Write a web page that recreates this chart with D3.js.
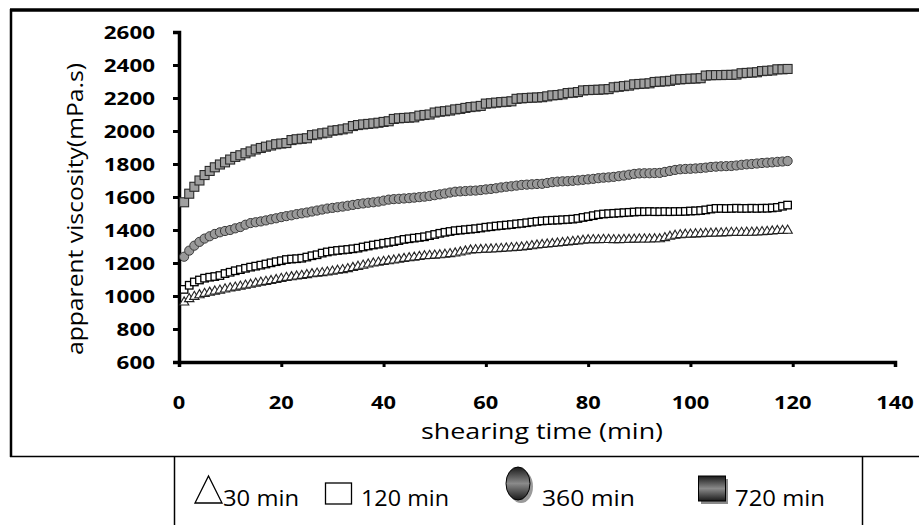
<!DOCTYPE html>
<html>
<head>
<meta charset="utf-8">
<script src="https://cdn.jsdelivr.net/npm/d3@7"></script>
<style>
  body { margin: 0; background: #fff; }
  svg text { fill: #000; }
</style>
</head>
<body>
<script>
// apparent viscosity (mPa.s), one reading per minute of shearing, minutes 1..119
var visc30 = [962,982,996,1006,1014,1021,1028,1034,1041,1047,1052,1058,1064,1069,1076,1082,1087,1092,1098,1105,
  1111,1115,1119,1123,1128,1133,1137,1140,1144,1149,1154,1158,1164,1171,1178,1185,1192,1198,1203,1208,
  1212,1216,1221,1226,1230,1234,1238,1242,1244,1246,1248,1251,1255,1259,1265,1271,1277,1279,1280,1282,
  1283,1285,1287,1289,1291,1293,1295,1299,1303,1307,1310,1313,1316,1319,1322,1326,1329,1332,1336,1339,
  1340,1340,1341,1341,1340,1340,1341,1342,1343,1344,1344,1344,1345,1345,1352,1360,1366,1370,1372,1373,
  1375,1376,1378,1379,1380,1381,1382,1384,1384,1384,1385,1385,1386,1388,1390,1392,1395,1396,1397];

var visc120 = [1040,1065,1085,1097,1108,1114,1118,1124,1136,1144,1153,1160,1168,1175,1181,1187,1194,1201,1208,1214,
  1221,1224,1226,1229,1236,1244,1250,1260,1267,1272,1276,1279,1282,1286,1290,1297,1303,1309,1314,1320,
  1325,1330,1336,1343,1347,1351,1355,1359,1366,1373,1380,1386,1391,1396,1399,1402,1405,1408,1412,1417,
  1420,1424,1427,1430,1433,1437,1440,1444,1448,1452,1455,1457,1459,1460,1462,1464,1466,1470,1476,1481,
  1487,1493,1497,1499,1501,1503,1505,1507,1509,1511,1511,1512,1511,1511,1512,1511,1512,1512,1513,1515,
  1516,1518,1522,1527,1531,1531,1530,1531,1532,1531,1531,1532,1531,1532,1532,1534,1537,1544,1551];

var visc360 = [1238,1275,1305,1328,1348,1362,1376,1386,1394,1400,1410,1418,1432,1442,1447,1452,1458,1465,1471,1478,
  1484,1489,1496,1501,1506,1512,1518,1524,1530,1534,1538,1542,1547,1552,1557,1561,1565,1568,1572,1578,
  1584,1587,1589,1591,1593,1596,1599,1602,1606,1611,1616,1621,1627,1632,1634,1636,1638,1639,1642,1646,
  1649,1653,1658,1662,1665,1669,1673,1675,1677,1679,1680,1685,1690,1693,1695,1696,1698,1701,1704,1707,
  1710,1714,1717,1719,1722,1726,1730,1735,1740,1743,1744,1744,1745,1746,1752,1758,1764,1768,1770,1771,
  1773,1775,1778,1782,1784,1786,1787,1788,1791,1795,1798,1800,1803,1806,1808,1810,1813,1815,1818];

var visc720 = [1568,1620,1662,1700,1733,1758,1780,1797,1810,1827,1843,1853,1865,1876,1888,1897,1905,1912,1920,1924,
  1927,1945,1950,1953,1956,1975,1979,1986,1990,2002,2005,2010,2016,2030,2036,2040,2043,2046,2050,2055,
  2059,2073,2077,2079,2081,2083,2093,2097,2100,2112,2117,2120,2124,2131,2134,2140,2145,2148,2152,2166,
  2168,2172,2175,2177,2180,2195,2198,2200,2202,2203,2205,2210,2216,2218,2222,2230,2232,2236,2246,2248,
  2249,2250,2252,2254,2265,2268,2272,2275,2283,2285,2287,2289,2297,2299,2301,2304,2311,2313,2315,2317,
  2318,2320,2336,2338,2339,2339,2340,2340,2342,2350,2352,2354,2356,2363,2365,2367,2374,2374,2376];

var xTicks = [0, 20, 40, 60, 80, 100, 120, 140];
var yTicks = [600, 800, 1000, 1200, 1400, 1600, 1800, 2000, 2200, 2400, 2600];
var legendLabels = ["30 min", "120 min", "360 min", "720 min"];

var W = 919, H = 525;

var svg = d3.select("body").append("svg")
    .attr("width", W)
    .attr("height", H)
    .style("display", "block");

var defs = svg.append("defs");
var g1 = defs.append("linearGradient").attr("id", "gradDark").attr("x1", 0).attr("y1", 0).attr("x2", 0).attr("y2", 1);
g1.append("stop").attr("offset", "0%").attr("stop-color", "#1a1a1a");
g1.append("stop").attr("offset", "50%").attr("stop-color", "#8a8a8a");
g1.append("stop").attr("offset", "100%").attr("stop-color", "#1a1a1a");

var x = d3.scaleLinear().domain([0, 140]).range([179, 895]);
var y = d3.scaleLinear().domain([600, 2600]).range([362, 32]);

// outer frame
svg.append("line").attr("x1", 10).attr("x2", W).attr("y1", 10).attr("y2", 10)
    .attr("stroke", "#000").attr("stroke-width", 3.5);
svg.append("line").attr("x1", 11).attr("x2", 11).attr("y1", 9).attr("y2", 457)
    .attr("stroke", "#000").attr("stroke-width", 2.5);
svg.append("line").attr("x1", 10).attr("x2", W).attr("y1", 456.5).attr("y2", 456.5)
    .attr("stroke", "#000").attr("stroke-width", 1.5);

// axes
var yAxis = d3.axisLeft(y).tickValues(yTicks).tickSize(6).tickFormat("");
var xAxis = d3.axisBottom(x).tickValues(xTicks).tickSize(5).tickFormat("");

var gy = svg.append("g").attr("transform", "translate(" + x(0) + ",0)").call(yAxis);
var gx = svg.append("g").attr("transform", "translate(0," + y(600) + ")").call(xAxis);
[gx, gy].forEach(function(g) {
    g.select(".domain").attr("stroke", "#000").attr("stroke-width", 3.5);
    g.selectAll(".tick line").attr("stroke", "#000").attr("stroke-width", 3);
});

// tick labels
svg.append("g").selectAll("text")
    .data(yTicks)
    .enter().append("text")
    .attr("x", 155)
    .attr("y", function(d) { return y(d) + 6.5; })
    .attr("text-anchor", "end")
    .attr("font-family", "'Open Sans', sans-serif")
    .attr("font-weight", "bold")
    .attr("font-size", 17.5)
    .attr("textLength", function(d) { return String(d).length * 12.8; })
    .attr("lengthAdjust", "spacingAndGlyphs")
    .text(function(d) { return d; });

svg.append("g").selectAll("text")
    .data(xTicks)
    .enter().append("text")
    .attr("x", function(d) { return x(d); })
    .attr("y", 409)
    .attr("text-anchor", "middle")
    .attr("font-family", "'Open Sans', sans-serif")
    .attr("font-weight", "bold")
    .attr("font-size", 17)
    .attr("textLength", function(d) { return String(d).length * 12.5; })
    .attr("lengthAdjust", "spacingAndGlyphs")
    .text(function(d) { return d; });

// axis titles
svg.append("text")
    .attr("x", 542).attr("y", 439)
    .attr("text-anchor", "middle")
    .attr("font-family", "'Open Sans', sans-serif")
    .attr("font-size", 21.5)
    .attr("textLength", 242)
    .attr("lengthAdjust", "spacingAndGlyphs")
    .text("shearing time (min)");

svg.append("text")
    .attr("transform", "translate(83,209) rotate(-90)")
    .attr("text-anchor", "middle")
    .attr("font-family", "'Open Sans', sans-serif")
    .attr("font-size", 21.5)
    .attr("textLength", 292)
    .attr("lengthAdjust", "spacingAndGlyphs")
    .text("apparent viscosity(mPa.s)");

// series
function pts(arr) {
    return arr.map(function(v, i) { return {t: i + 1, v: v}; });
}

var tri = d3.symbol().type(d3.symbolTriangle).size(38);

svg.append("g").selectAll("path")
    .data(pts(visc30))
    .enter().append("path")
    .attr("d", tri)
    .attr("transform", function(d) { return "translate(" + x(d.t) + "," + y(d.v) + ")"; })
    .attr("fill", "#fff")
    .attr("stroke", "#222")
    .attr("stroke-width", 1.1);

svg.append("g").selectAll("rect")
    .data(pts(visc120))
    .enter().append("rect")
    .attr("x", function(d) { return x(d.t) - 3.75; })
    .attr("y", function(d) { return y(d.v) - 3.75; })
    .attr("width", 7.5).attr("height", 7.5)
    .attr("fill", "#fff")
    .attr("stroke", "#000")
    .attr("stroke-width", 1.3);

svg.append("g").selectAll("circle")
    .data(pts(visc360))
    .enter().append("circle")
    .attr("cx", function(d) { return x(d.t); })
    .attr("cy", function(d) { return y(d.v); })
    .attr("r", 4.6)
    .attr("fill", "#999")
    .attr("stroke", "#3a3a3a")
    .attr("stroke-width", 1);

svg.append("g").selectAll("rect")
    .data(pts(visc720))
    .enter().append("rect")
    .attr("x", function(d) { return x(d.t) - 4.5; })
    .attr("y", function(d) { return y(d.v) - 4.5; })
    .attr("width", 9).attr("height", 9)
    .attr("fill", "#a0a0a0")
    .attr("stroke", "#2a2a2a")
    .attr("stroke-width", 1.1);

// legend box
var lg = svg.append("g");
lg.append("line").attr("x1", 174.5).attr("x2", 174.5).attr("y1", 456).attr("y2", H)
    .attr("stroke", "#000").attr("stroke-width", 1.5);
lg.append("line").attr("x1", 862.5).attr("x2", 862.5).attr("y1", 456).attr("y2", H)
    .attr("stroke", "#000").attr("stroke-width", 1.5);

// legend symbols
lg.append("path")
    .attr("d", "M195,503 L222,503 L208.5,476 Z")
    .attr("fill", "none").attr("stroke", "#000").attr("stroke-width", 1.3);
lg.append("rect")
    .attr("x", 325.5).attr("y", 483).attr("width", 26).attr("height", 21)
    .attr("fill", "#fff").attr("stroke", "#000").attr("stroke-width", 1.3);
lg.append("ellipse")
    .attr("cx", 521).attr("cy", 486.5).attr("rx", 12).attr("ry", 16.5)
    .attr("fill", "#9a9a9a");
lg.append("ellipse")
    .attr("cx", 518).attr("cy", 483.5).attr("rx", 12).attr("ry", 16.5)
    .attr("fill", "url(#gradDark)").attr("stroke", "#000").attr("stroke-width", 1);
lg.append("rect")
    .attr("x", 701).attr("y", 479).attr("width", 27).attr("height", 25)
    .attr("fill", "#8a8a8a");
lg.append("rect")
    .attr("x", 698.5).attr("y", 476).attr("width", 27).attr("height", 25)
    .attr("fill", "url(#gradDark)").attr("stroke", "#000").attr("stroke-width", 1);

var legendX = [223, 361, 542, 735];
var legendW = [76, 88, 93, 90];
lg.selectAll("text.leg")
    .data(legendLabels)
    .enter().append("text")
    .attr("class", "leg")
    .attr("x", function(d, i) { return legendX[i]; })
    .attr("y", 506)
    .attr("font-family", "'Open Sans', sans-serif")
    .attr("font-size", 22.5)
    .attr("textLength", function(d, i) { return legendW[i]; })
    .attr("lengthAdjust", "spacingAndGlyphs")
    .text(function(d) { return d; });
</script>
</body>
</html>
